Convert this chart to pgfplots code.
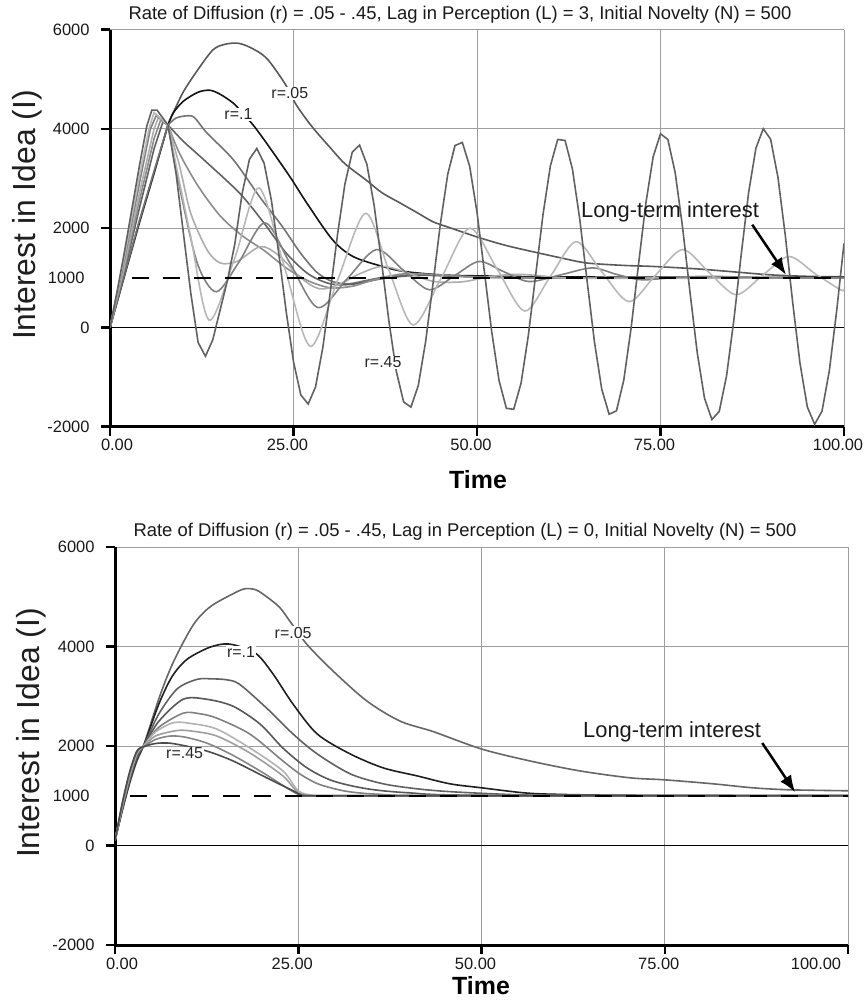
\documentclass[border=0pt]{standalone}
\usepackage{pgfplots}
\pgfplotsset{compat=1.18}
\usepackage{fontspec}
\setmainfont{Liberation Sans}
\usetikzlibrary{arrows.meta}

\pgfplotsset{
  commonaxis/.style={
    scale only axis,
    xmin=0,xmax=100,ymin=-2000,ymax=6000,
    axis lines=left,
    axis line style={-, line width=3bp, black},
    xtick={0,25,50,75,100},
    ytick={-2000,0,2000,4000,6000},
    yticklabels={-2000,0,2000,4000,6000},
    extra y ticks={1000},
    extra y tick labels={1000},
    extra y tick style={grid=none, major tick length=0pt, yticklabel style={xshift=-14bp}},
    tick align=outside,
    major tick length=9bp,
    tick style={black, line width=2.5bp},
    grid=major,
    major grid style={black!38, line width=1bp},
    tick label style={font=\fontsize{16.5}{19}\selectfont, text=black!90},
    yticklabel style={xshift=-8bp},
    xticklabel style={xshift=-6bp},
    clip=true,
  },
  cv/.style={line width=1.6bp},
}
\tikzset{
  rlab/.style={fill=white, inner sep=1bp, font=\fontsize{16}{19}\selectfont, text=black!85},
  ltlab/.style={font=\fontsize{22}{26}\selectfont, text=black!90},
}

\begin{document}
\begin{tikzpicture}
\useasboundingbox (0,0) rectangle (867bp,-1001bp);

% ---------------- TOP PANEL (L = 3) ----------------
\begin{axis}[commonaxis, width=734bp, height=397bp, at={(110bp,-426.7bp)}, anchor=south west,
  xticklabels={\makebox[0pt]{\hspace{26bp}0.00},25.00,50.00,75.00,100.00}]
\addplot[black, line width=1.5bp] coordinates {(0,0)(100,0)};

% r = .05
\addplot[cv, black!65] coordinates {(0,0)(2,1050)(4,2100)(6,3100)(7.9,4080)};
\addplot[cv, black!65, smooth] coordinates {(7.9,4080)(8.6,4320)(10,4750)(12,5200)(14,5590)(15.5,5700)(17.3,5730)(19,5650)(21.3,5430)(23.8,4920)(25.4,4480)(27.5,4050)(29.9,3640)(32,3300)(34.9,2970)(37,2720)(39.5,2510)(42,2300)(44,2130)(46.3,2010)(50.3,1810)(54,1650)(58.1,1510)(61.5,1400)(64.9,1300)(70,1250)(73.9,1230)(80,1180)(85,1120)(90,1060)(95,1030)(100,1020)};
% r = .1
\addplot[cv, black!92] coordinates {(0,0)(2,1070)(4,2130)(6,3120)(7.9,4080)};
\addplot[cv, black!92, smooth] coordinates {(7.9,4080)(8.6,4320)(10,4560)(12,4740)(13.6,4780)(15,4700)(16.8,4520)(18,4330)(19.5,4080)(21.3,3720)(24.5,3040)(26.8,2510)(30.3,1770)(33.1,1430)(37.1,1230)(40,1130)(45,1060)(50,1040)(60,1020)(80,1010)(100,1010)};
% r = .15
\addplot[cv, black!55] coordinates {(0,0)(2,1080)(4,2150)(6,3150)(7.9,4080)};
\addplot[cv, black!55, smooth] coordinates {(7.9,4080)(9,4220)(10.5,4265)(11.5,4230)(13.2,3920)(16.8,3380)(20.4,2630)(23.5,2030)(25.9,1510)(28.2,1110)(30.3,925)(32.5,880)(35,950)(38,1030)(42,1060)(50,1020)(60,1000)(100,1000)};
% r = .2
\addplot[cv, black!62] coordinates {(0,0)(2,1150)(4,2400)(6,3600)(7.2,4140)(7.9,4080)};
\addplot[cv, black!62, smooth] coordinates {(7.9,4080)(10,3750)(13,3350)(17.7,2700)(21,2100)(24,1500)(27,1080)(30,880)(33,870)(37,980)(42,1050)(50,1020)(60,1000)(100,1000)};
% r = .25
\addplot[cv, black!45] coordinates {(0,0)(2,1200)(4,2550)(6,3800)(6.9,4180)(7.9,4080)};
\addplot[cv, black!45, smooth] coordinates {(7.9,4080)(9.5,3500)(12,2850)(15,2250)(18,1850)(21,1550)(24,1200)(27,940)(30,800)(33,830)(36,960)(40,1080)(45,1060)(55,1000)(100,1000)};
% r = .3
\addplot[cv, black!32] coordinates {(0,0)(2,1280)(4,2700)(6,4000)(6.6,4230)(7.9,4080)};
\addplot[cv, black!32, smooth] coordinates {(7.9,4080)(9.5,3240)(11,2300)(13.2,1570)(15,1300)(17.3,1330)(20.5,1630)(23,1450)(26,1000)(28.5,780)(31,850)(34,1080)(37,1230)(40,1130)(44,930)(48,920)(52,1030)(56,1070)(62,1000)(70,990)(100,1000)};
% r = .35
\addplot[cv, black!50] coordinates {(0,0)(2,1380)(4,2900)(5.5,4000)(6.3,4270)(7.9,4080)};
\addplot[cv, black!50, smooth] coordinates {(7.9,4080)(9.8,2600)(12,1250)(14.5,720)(17.5,1300)(21.1,2110)(24.5,1300)(28.3,400)(32.3,980)(36.3,1570)(40,1150)(43.5,760)(47,1050)(50.3,1330)(53.7,1120)(57.1,925)(61.4,1060)(65.7,1200)(69,1070)(72.5,960)(77,1010)(82,1030)(90,1000)(100,1000)};
% r = .4
\addplot[cv, black!28] coordinates {(0,0)(2,1450)(4,3050)(5.3,4000)(6.0,4330)(7.9,4080)};
\addplot[cv, black!28, smooth] coordinates {(7.9,4080)(10.9,1900)(13.5,150)(17,1400)(20.3,2810)(23.8,1200)(27.3,-380)(31,950)(34.8,2300)(38,1150)(41.3,50)(45.2,1020)(49,2000)(52.8,1160)(56.5,330)(60,1030)(63.5,1730)(67,1120)(70.7,520)(74.3,1050)(78,1570)(81.6,1110)(85.3,660)(88.9,1050)(92.5,1430)(96,1090)(99.5,760)(100,765)};
% r = .45
\addplot[cv, black!62] coordinates {(0,0)(1,750)(2,1550)(3,2400)(4,3250)(5,4050)(5.7,4380)(6.4,4380)(7.9,4080)(9,3100)(10,1900)(11,700)(12,-300)(13,-580)(14,-250)(15,350)(16,950)(17,1678)(18,2699)(19,3389)(20,3607)(21,3308)(22,2552)(23,1483)(24,324)(25,-692)(26,-1361)(27,-1543)(28,-1199)(29,-400)(30,699)(31,1874)(32,2886)(33,3530)(34,3675)(35,3287)(36,2445)(37,1313)(38,126)(39,-880)(40,-1500)(41,-1605)(42,-1170)(43,-286)(44,875)(45,2075)(46,3075)(47,3666)(48,3728)(49,3249)(50,2321)(51,1132)(52,-81)(53,-1066)(54,-1630)(55,-1649)(56,-1124)(57,-154)(58,1064)(59,2284)(60,3258)(61,3789)(62,3767)(63,3193)(64,2182)(65,937)(66,-290)(67,-1248)(68,-1748)(69,-1680)(70,-1059)(71,-7)(72,1265)(73,2498)(74,3440)(75,3903)(76,3788)(77,3120)(78,2026)(79,731)(80,-503)(81,-1430)(82,-1855)(83,-1694)(84,-975)(85,157)(86,1474)(87,2713)(88,3614)(89,4004)(90,3794)(91,3026)(92,1857)(93,516)(94,-719)(95,-1601)(96,-1951)(97,-1688)(98,-875)(99,335)(100,1694)};

\addplot[black, line width=1.6bp, dash pattern=on 17bp off 14bp] coordinates {(3,1000)(100,1000)};

\node[rlab] at (axis cs:24.5,4720) {r=.05};
\node[rlab] at (axis cs:17.5,4300) {r=.1};
\node[rlab] at (axis cs:37.2,-700) {r=.45};
\node[ltlab] at (axis cs:76.3,2330) {Long-term interest};
\draw[black, line width=2.5bp, -{Latex[length=17bp,width=13bp]}] (axis cs:87.5,2070) -- (axis cs:92.1,1060);
\end{axis}

% ---------------- BOTTOM PANEL (L = 0) ----------------
\begin{axis}[commonaxis, width=733bp, height=398bp, at={(115bp,-945bp)}, anchor=south west,
  xticklabels={\makebox[0pt]{\hspace{26bp}0.00},25.00,50.00,75.00,\makebox[0pt]{100.00\hspace{52bp}}}]
\addplot[black, line width=1.5bp] coordinates {(0,0)(100,0)};

% r = .05
\addplot[cv, black!60, smooth] coordinates {(0,100)(1,700)(2,1250)(3,1700)(4,2050)(6.1,3000)(8,3700)(10.7,4440)(13,4800)(16.1,5060)(17.7,5160)(19.2,5140)(20.7,5000)(22.5,4780)(23.9,4500)(26.2,4040)(29.8,3500)(34.4,2900)(38.9,2500)(43.4,2290)(50,1940)(56.6,1700)(63.4,1500)(70.3,1360)(75,1320)(81.6,1240)(87,1160)(92,1120)(100,1100)};
% r = .1
\addplot[cv, black!88, smooth] coordinates {(0,100)(1,720)(2,1280)(3,1740)(4,2040)(6,2850)(7.8,3400)(9.8,3740)(12.5,3960)(14.3,4040)(15.5,4050)(17,4000)(19.4,3840)(21.6,3440)(24.3,2840)(27.6,2240)(32.1,1840)(36.6,1560)(41.2,1400)(45.7,1240)(50,1160)(55.7,1060)(60,1030)(70,1010)(100,1000)};
% r = .15
\addplot[cv, black!62, smooth] coordinates {(0,100)(1,740)(2,1310)(3,1770)(4,2030)(6,2650)(8.5,3150)(11.2,3340)(13.2,3350)(15.3,3330)(17,3240)(20.7,2760)(24.3,2240)(27.6,1840)(32.1,1440)(36.6,1240)(41.2,1140)(46,1080)(55,1020)(65,1000)(100,1000)};
% r = .2
\addplot[cv, black!66, smooth] coordinates {(0,100)(1,760)(2,1340)(3,1800)(4,2020)(6,2500)(9.3,2940)(12.5,2940)(16.1,2800)(19.8,2440)(22.9,1960)(26.2,1560)(29.7,1300)(34.4,1140)(40,1060)(50,1010)(100,1000)};
% r = .25
\addplot[cv, black!50, smooth] coordinates {(0,100)(1,780)(2,1370)(3,1830)(4,2020)(6,2380)(9.3,2660)(11.5,2650)(13.9,2560)(18.4,2240)(22.9,1700)(25.2,1440)(27.5,1250)(29.7,1150)(32,1080)(36,1030)(45,1000)(100,1000)};
% r = .3
\addplot[cv, black!30, smooth] coordinates {(0,100)(1,800)(2,1400)(3,1850)(4,2010)(5.5,2280)(8,2470)(10.5,2450)(13.9,2340)(18.4,1960)(22.9,1500)(25,1100)(27,1010)(30,1000)(100,1000)};
% r = .35
\addplot[cv, black!38, smooth] coordinates {(0,100)(1,820)(2,1430)(3,1870)(4,2000)(5.5,2200)(8.4,2310)(10.5,2300)(13.9,2200)(18.4,1860)(22.9,1400)(25,1060)(27,1000)(30,1000)(100,1000)};
% r = .4
\addplot[cv, black!48, smooth] coordinates {(0,100)(1,840)(2,1460)(3,1890)(4,1990)(5.5,2130)(7.5,2200)(9.5,2180)(12.5,2060)(16,1820)(20,1480)(23,1200)(25,1030)(27,1000)(30,1000)(100,1000)};
% r = .45
\addplot[cv, black!70, smooth] coordinates {(0,100)(1,860)(2,1480)(3,1900)(4,1990)(5.5,2050)(7.2,2060)(9,2020)(12.5,1900)(16.1,1700)(20.7,1360)(24.3,1100)(25.5,1010)(27,1000)(30,1000)(100,1000)};

\addplot[black, line width=1.6bp, dash pattern=on 17bp off 14bp] coordinates {(2,1000)(100,1000)};

\node[rlab] at (axis cs:24.3,4280) {r=.05};
\node[rlab] at (axis cs:17.2,3880) {r=.1};
\node[rlab] at (axis cs:9.5,1850) {r=.45};
\node[ltlab] at (axis cs:76.0,2280) {Long-term interest};
\draw[black, line width=2.5bp, -{Latex[length=17bp,width=13bp]}] (axis cs:88.3,2060) -- (axis cs:92.8,1070);
\end{axis}

% ---------------- titles and labels ----------------
\node[font=\fontsize{18.5}{22}\selectfont, text=black!90] at (460bp,-15bp) {Rate of Diffusion (r) = .05 - .45, Lag in Perception (L) = 3, Initial Novelty (N) = 500};
\node[font=\fontsize{18.5}{22}\selectfont, text=black!90] at (465bp,-532bp) {Rate of Diffusion (r) = .05 - .45, Lag in Perception (L) = 0, Initial Novelty (N) = 500};
\node[rotate=90, font=\fontsize{32}{38}\selectfont, text=black!88] at (27bp,-215bp) {Interest in Idea (I)};
\node[rotate=90, font=\fontsize{32}{38}\selectfont, text=black!88] at (31bp,-733bp) {Interest in Idea (I)};
\node[font=\bfseries\fontsize{25}{30}\selectfont] at (478bp,-480bp) {Time};
\node[font=\bfseries\fontsize{25}{30}\selectfont] at (481bp,-986bp) {Time};
\end{tikzpicture}
\end{document}
